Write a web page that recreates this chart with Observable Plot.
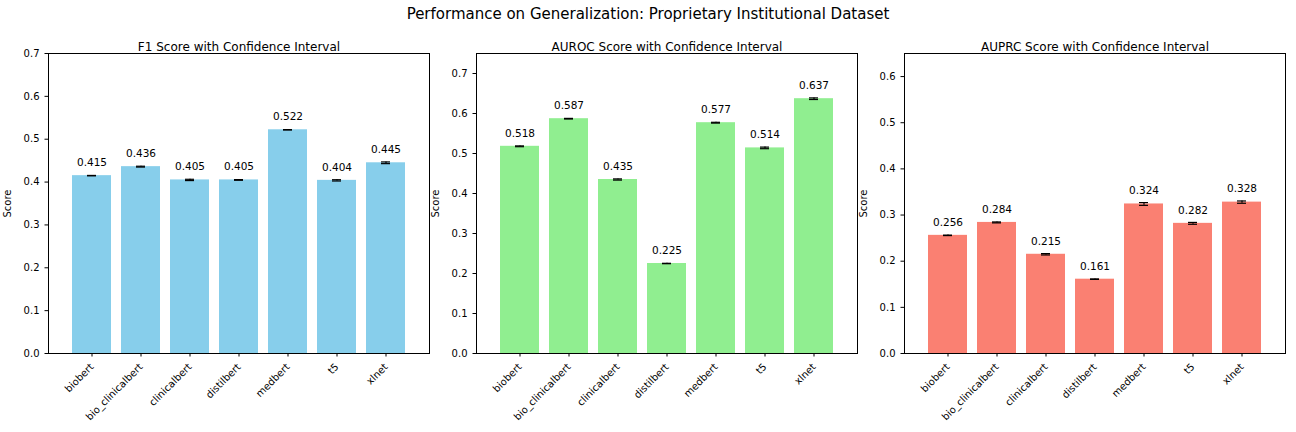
<!DOCTYPE html>
<html>
<head>
<meta charset="utf-8">
<script src="https://cdn.jsdelivr.net/npm/d3@7"></script>
<script src="https://cdn.jsdelivr.net/npm/@observablehq/plot@0.6"></script>
<style>
  body { margin: 0; background: #fff; font-family: "DejaVu Sans", sans-serif; }
  #wrap { position: relative; width: 1296px; height: 432px; }
  #title { position: absolute; top: 5px; left: 0; width: 1296px; text-align: center; font-size: 15px; }
  .panel { position: absolute; top: 32px; }
</style>
</head>
<body>
<div id="wrap">
  <div id="title">Performance on Generalization: Proprietary Institutional Dataset</div>
</div>
<script>
const models = ["biobert", "bio_clinicalbert", "clinicalbert", "distilbert", "medbert", "t5", "xlnet"];

const f1 = [0.415, 0.436, 0.405, 0.405, 0.522, 0.404, 0.445];
const f1Err = [0.0005, 0.001, 0.0015, 0.0008, 0.0005, 0.0015, 0.002];

const auroc = [0.518, 0.587, 0.435, 0.225, 0.577, 0.514, 0.637];
const aurocErr = [0.001, 0.0008, 0.0015, 0.0005, 0.001, 0.002, 0.002];

const auprc = [0.256, 0.284, 0.215, 0.161, 0.324, 0.282, 0.328];
const auprcErr = [0.0005, 0.001, 0.0015, 0.0005, 0.003, 0.002, 0.0025];

const panels = [
  {title: "F1 Score with Confidence Interval", vals: f1, errs: f1Err, color: "#87CEEB", max: 0.7, ticks: d3.range(0, 0.71, 0.1), left: 0},
  {title: "AUROC Score with Confidence Interval", vals: auroc, errs: aurocErr, color: "#90EE90", max: 0.75, ticks: d3.range(0, 0.71, 0.1), left: 428},
  {title: "AUPRC Score with Confidence Interval", vals: auprc, errs: auprcErr, color: "#FA8072", max: 0.65, ticks: d3.range(0, 0.61, 0.1), left: 856}
];

for (const p of panels) {
  const data = models.map((m, i) => ({model: m, v: p.vals[i], e: p.errs[i]}));
  const chart = Plot.plot({
    width: 431,
    height: 400,
    marginLeft: 48,
    marginRight: 2,
    marginTop: 21,
    marginBottom: 79,
    style: {fontFamily: "DejaVu Sans, sans-serif", fontSize: "10px", color: "#000"},
    x: {domain: models, padding: 0.2, inset: 12, label: null, tickRotate: -45, tickSize: 3.5},
    y: {domain: [0, p.max], ticks: p.ticks, tickFormat: ".1f", label: "Score", labelAnchor: "center", labelArrow: "none", tickSize: 3.5},
    marks: [
      Plot.barY(data, {x: "model", y: "v", fill: p.color}),
      Plot.ruleX(data, {x: "model", y1: d => d.v - d.e, y2: d => d.v + d.e, stroke: "#000", strokeWidth: 1.2}),
      Plot.tickY(data, {x: "model", y: d => d.v - d.e, stroke: "#000", strokeWidth: 1.2, insetLeft: 15, insetRight: 15}),
      Plot.tickY(data, {x: "model", y: d => d.v + d.e, stroke: "#000", strokeWidth: 1.2, insetLeft: 15, insetRight: 15}),
      Plot.text(data, {x: "model", y: "v", text: d => d.v.toFixed(3), dy: -13, fill: "#000", fontSize: 10.5}),
      Plot.frame({stroke: "#000"}),
      Plot.text([p.title], {frameAnchor: "top", dy: -11, fontSize: 12, fill: "#000"})
    ]
  });
  chart.classList.add("panel");
  chart.style.left = p.left + "px";
  document.getElementById("wrap").appendChild(chart);
}
</script>
</body>
</html>
